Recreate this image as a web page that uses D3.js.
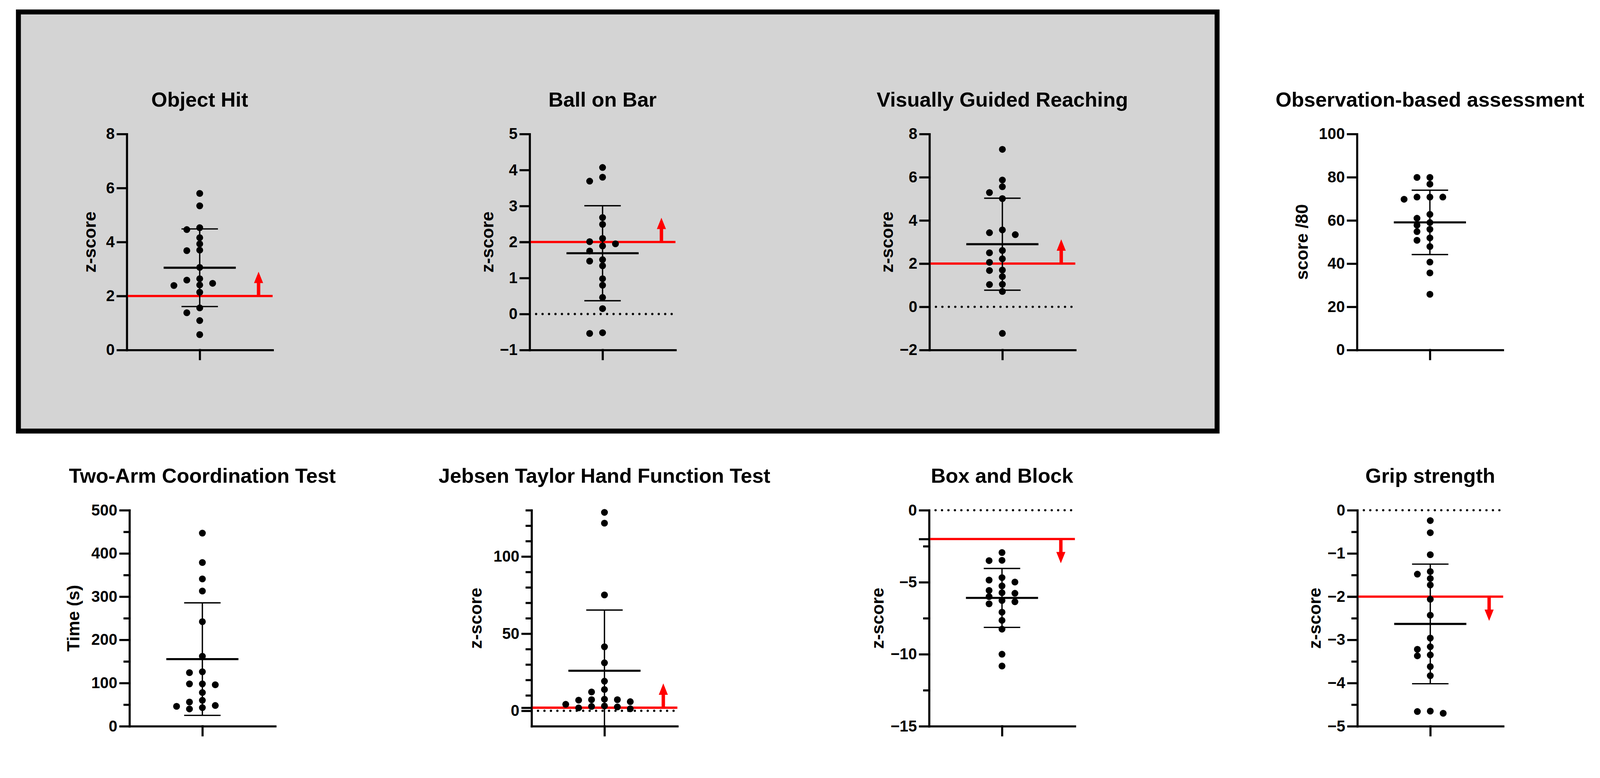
<!DOCTYPE html>
<html>
<head>
<meta charset="utf-8">
<script src="https://cdn.jsdelivr.net/npm/d3@7"></script>
<style>
  html, body { margin: 0; padding: 0; background: #fff; overflow: hidden; }
  svg { display: block; width: 100vw; height: 100vh; }
  svg text { font-family: "Liberation Sans", Arial, sans-serif; font-weight: bold; fill: #000; }
</style>
</head>
<body>
<svg id="chart" viewBox="0 0 4214 1992" preserveAspectRatio="xMinYMin meet"></svg>
<script>
// ===== DATA (one array per test) =====
const objectHit = [5.80, 5.34, 4.53, 4.46, 4.16, 3.93, 3.68, 3.70, 3.06, 2.64, 2.59, 2.41, 2.39, 2.47, 2.14, 1.56, 1.38, 1.09, 0.57];
const ballOnBar = [4.07, 3.80, 3.69, 2.68, 2.49, 2.10, 2.01, 1.95, 1.89, 1.75, 1.47, 1.51, 1.34, 0.98, 0.80, 0.46, 0.15, -0.54, -0.52];
const guidedReaching = [7.29, 5.87, 5.56, 5.29, 5.01, 3.56, 3.43, 3.34, 2.61, 2.50, 2.22, 2.06, 1.70, 1.68, 1.40, 1.04, 1.03, 0.71, -1.23];
const observation = [79.9, 79.9, 76.8, 70.8, 70.8, 69.8, 70.8, 62.8, 61.0, 59.0, 55.9, 57.8, 54.8, 51.9, 50.8, 47.9, 40.7, 35.7, 25.8];
const twoArm = [447, 379, 341, 313, 242, 162, 124, 126, 96, 98, 98, 78, 56, 60, 46, 48, 43, 40];
const jebsenTaylor = [128.6, 121.6, 75.1, 41.5, 31.1, 19.2, 13.8, 12.2, 6.9, 7.2, 7.5, 5.9, 7.2, 4.2, 1.9, 2.5, 3.1, 1.3, 2.8];
const boxBlock = [-2.94, -3.48, -3.50, -4.68, -4.85, -4.99, -5.26, -5.57, -5.77, -5.73, -6.00, -6.27, -6.36, -6.50, -7.08, -7.65, -8.26, -10.0, -10.82];
const gripStrength = [-0.24, -0.52, -1.03, -1.42, -1.48, -1.58, -1.73, -2.06, -2.43, -2.96, -3.22, -3.16, -3.35, -3.37, -3.62, -3.83, -4.70, -4.65, -4.66];

const titles = ["Object Hit", "Ball on Bar", "Visually Guided Reaching", "Observation-based assessment",
                "Two-Arm Coordination Test", "Jebsen Taylor Hand Function Test", "Box and Block", "Grip strength"];
const yLabels = ["z-score", "z-score", "z-score", "score /80", "Time (s)", "z-score", "z-score", "z-score"];
const yDomains = [[0, 8], [-1, 5], [-2, 8], [0, 100], [0, 500], [-10, 130], [-15, 0], [-5, 0]];
const majorTicks = [[0, 2, 4, 6, 8], [-1, 0, 1, 2, 3, 4, 5], [-2, 0, 2, 4, 6, 8], [0, 20, 40, 60, 80, 100],
                    [0, 100, 200, 300, 400, 500], [0, 50, 100], [-15, -10, -5, 0], [-5, -4, -3, -2, -1, 0]];
const minorTicks = [[], [], [], [], [50, 150, 250, 350, 450], [10, 20, 30, 40, 60, 70, 80, 90, 110, 120, 130],
                    [-12.5, -7.5, -2.5], [-4.5, -3.5, -2.5, -1.5, -0.5]];
const thresholds = [2, 2, 2, null, null, 2, -2, -2];   // red cut-off lines, arrow points away from 0
const zeroLines = [false, true, true, false, false, true, true, true];
const series = [objectHit, ballOnBar, guidedReaching, observation, twoArm, jebsenTaylor, boxBlock, gripStrength];

// ===== LAYOUT =====
// axis x, plot top/bottom, distance of the axis title from the axis
const layout = [
    { x: 334, top: 353, bottom: 922, labelGap: 82 },
    { x: 1395, top: 353, bottom: 922, labelGap: 96 },
    { x: 2448, top: 353, bottom: 922, labelGap: 96 },
    { x: 3574, top: 353, bottom: 922, labelGap: 130 },
    { x: 341, top: 1344, bottom: 1913, labelGap: 132 },
    { x: 1400, top: 1344, bottom: 1913, labelGap: 131 },
    { x: 2447, top: 1344, bottom: 1913, labelGap: 120 },
    { x: 3575, top: 1344, bottom: 1913, labelGap: 97 }
];
const axisLen = 384,
    lw = 5.5,
    dotR = 9,
    colStep = 17;

const svg = d3.select("#chart");
svg.append("rect").attr("width", 4214).attr("height", 1992).attr("fill", "#fff");

// grey box round the robotic tasks
svg.append("rect")
    .attr("x", 48.5).attr("y", 31.5)
    .attr("width", 3157).attr("height", 1104)
    .attr("fill", "#d4d4d4")
    .attr("stroke", "#000")
    .attr("stroke-width", 13);

// column scatter like Prism: fill the centre first, then step outwards
function swarm(values, y, cx) {
    const order = d3.range(values.length).sort((a, b) => values[b] - values[a]);
    const placed = [];
    const xs = [];
    order.forEach(i => {
        const py = y(values[i]);
        for (let k = 0; k < 30; k++) {
            const cands = k === 0 ? [0] : [-k, k];
            const c = cands.find(c => placed.every(p => !(Math.abs(p.y - py) < 16 && Math.abs(p.c - c) * colStep < 2 * colStep)));
            if (c !== undefined) {
                placed.push({ c: c, y: py });
                xs[i] = cx + c * colStep;
                break;
            }
        }
    });
    return xs;
}

function styleAxis(sel) {
    sel.attr("font-size", 41).attr("font-family", null);
    sel.selectAll("path, line").attr("stroke", "#000").attr("stroke-width", lw).attr("stroke-linecap", "square");
    sel.selectAll("text").attr("font-weight", "bold").attr("fill", "#000");
}

series.forEach((values, i) => {
    const p = layout[i];
    const g = svg.append("g").attr("class", "panel");

    const y = d3.scaleLinear().domain(yDomains[i]).range([p.bottom, p.top]);
    const x = d3.scalePoint().domain([titles[i]]).range([p.x, p.x + axisLen]).padding(0.5);
    const cx = x(titles[i]);

    // ===== AXES =====
    g.append("g")
        .attr("transform", `translate(${p.x},0)`)
        .call(d3.axisLeft(y).tickValues(majorTicks[i]).tickSize(24).tickSizeOuter(0).tickPadding(8).tickFormat(d3.format("")))
        .call(styleAxis);

    if (minorTicks[i].length) {
        g.append("g")
            .attr("transform", `translate(${p.x},0)`)
            .call(d3.axisLeft(y).tickValues(minorTicks[i]).tickSize(13).tickFormat(""))
            .call(s => s.select(".domain").remove())
            .call(styleAxis);
    }
    if (thresholds[i] !== null) {
        g.append("g")
            .attr("transform", `translate(${p.x},0)`)
            .call(d3.axisLeft(y).tickValues([thresholds[i]]).tickSize(24).tickFormat(""))
            .call(s => s.select(".domain").remove())
            .call(styleAxis);
    }

    g.append("g")
        .attr("transform", `translate(0,${p.bottom})`)
        .call(d3.axisBottom(x).tickSize(24).tickSizeOuter(0).tickFormat(""))
        .call(styleAxis);

    // ===== TEXT =====
    g.append("text")
        .attr("x", cx)
        .attr("y", p.top - 72)
        .attr("text-anchor", "middle")
        .attr("font-size", 54)
        .text(titles[i]);

    g.append("text")
        .attr("transform", `translate(${p.x - p.labelGap},${(p.top + p.bottom) / 2}) rotate(-90)`)
        .attr("text-anchor", "middle")
        .attr("font-size", 46)
        .text(yLabels[i]);

    // ===== REFERENCE LINES =====
    if (zeroLines[i]) {
        g.append("line")
            .attr("x1", p.x + 17).attr("x2", p.x + axisLen)
            .attr("y1", y(0)).attr("y2", y(0))
            .attr("stroke", "#000")
            .attr("stroke-width", 6)
            .attr("stroke-linecap", "round")
            .attr("stroke-dasharray", "0 17");
    }
    if (thresholds[i] !== null) {
        const t = thresholds[i],
            ty = y(t),
            dir = t > 0 ? -1 : 1,      // up for positive cut-offs
            ax = p.x + 347;
        g.append("line")
            .attr("x1", p.x + lw / 2).attr("x2", p.x + axisLen)
            .attr("y1", ty).attr("y2", ty)
            .attr("stroke", "#ff0000")
            .attr("stroke-width", 6);
        const shaftEnd = ty + dir * 34,
            tip = ty + dir * 64;
        g.append("path")
            .attr("d", `M${ax - 4.5},${ty}V${shaftEnd}H${ax - 12}L${ax},${tip}L${ax + 12},${shaftEnd}H${ax + 4.5}V${ty}Z`)
            .attr("fill", "#ff0000");
    }

    // ===== POINTS =====
    const xs = swarm(values, y, cx);
    g.append("g")
        .selectAll("circle")
        .data(values)
        .join("circle")
        .attr("cx", (d, j) => xs[j])
        .attr("cy", d => y(d))
        .attr("r", dotR)
        .attr("fill", "#000");

    // ===== MEAN +/- SD =====
    const mean = d3.mean(values),
        sd = d3.deviation(values),
        [lo, hi] = yDomains[i],
        up = Math.min(mean + sd, hi),
        down = Math.max(mean - sd, lo);

    g.append("line")
        .attr("x1", cx).attr("x2", cx)
        .attr("y1", y(up)).attr("y2", y(down))
        .attr("stroke", "#000").attr("stroke-width", 3.5);
    [mean + sd, mean - sd].filter(v => v >= lo && v <= hi).forEach(v => {
        g.append("line")
            .attr("x1", cx - 48).attr("x2", cx + 48)
            .attr("y1", y(v)).attr("y2", y(v))
            .attr("stroke", "#000").attr("stroke-width", 3.5);
    });
    g.append("line")
        .attr("x1", cx - 95).attr("x2", cx + 95)
        .attr("y1", y(mean)).attr("y2", y(mean))
        .attr("stroke", "#000").attr("stroke-width", lw);
});
</script>
</body>
</html>
